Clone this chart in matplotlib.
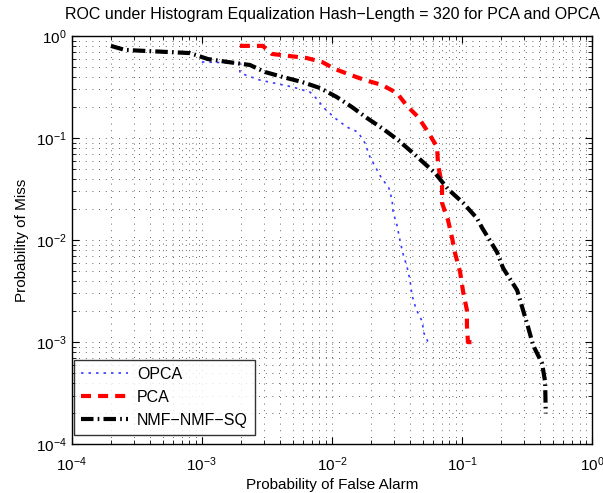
import numpy as np
import matplotlib.pyplot as plt
from matplotlib.ticker import LogLocator, NullFormatter

plt.rcParams['font.family'] = ['Liberation Sans', 'DejaVu Sans']

# OPCA (blue dotted)
opca_pfa = [1.0e-3, 1.96e-3, 1.96e-3, 2.79e-3, 5.0e-3, 6.78e-3, 7.8e-3, 8.53e-3,
            0.01054, 0.01304, 0.01584, 0.01793, 0.0196, 0.0218, 0.0238, 0.0274,
            0.029, 0.0295, 0.0316, 0.0333, 0.0352, 0.0378, 0.0398, 0.0412,
            0.0443, 0.0492, 0.051, 0.0548]
opca_pm = [0.556, 0.543, 0.434, 0.37, 0.316, 0.282, 0.236, 0.201,
           0.157, 0.128, 0.1145, 0.0893, 0.0651, 0.0508, 0.0415, 0.0323,
           0.0247, 0.0188, 0.014, 0.01, 0.0073, 0.00544, 0.00405, 0.00289,
           0.00211, 0.00161, 0.00122, 0.001]

# PCA (red dashed)
pca_pfa = [1.96e-3, 2.94e-3, 3.45e-3, 6.4e-3, 8.4e-3, 0.01054, 0.0133, 0.0179,
           0.0243, 0.0316, 0.0378, 0.0459, 0.0548, 0.0643, 0.0654, 0.0702,
           0.0702, 0.078, 0.0838, 0.0883, 0.0966, 0.102, 0.109, 0.109,
           0.111, 0.119]
pca_pm = [0.8, 0.8, 0.667, 0.608, 0.556, 0.475, 0.424, 0.37,
          0.331, 0.276, 0.206, 0.161, 0.1145, 0.0816, 0.0543, 0.0346,
          0.0231, 0.0157, 0.0105, 0.00746, 0.00486, 0.0031, 0.00206, 0.00147,
          0.001, 0.001]

# NMF-NMF-SQ (black dash-dot)
nmf_pfa = [2.0e-4, 2.56e-4, 8.1e-4, 1.11e-3, 1.58e-3, 2.34e-3, 3.05e-3, 4.2e-3,
           5.9e-3, 8.1e-3, 0.0109, 0.01426, 0.0186, 0.0247, 0.0322, 0.042,
           0.062, 0.078, 0.102, 0.130, 0.143, 0.186, 0.207, 0.265,
           0.322, 0.352, 0.412, 0.435, 0.44]
nmf_pm = [0.8, 0.73, 0.68, 0.595, 0.556, 0.52, 0.444, 0.396,
          0.354, 0.309, 0.252, 0.201, 0.157, 0.123, 0.0956, 0.0713,
          0.0454, 0.0316, 0.0231, 0.0164, 0.0131, 0.0076, 0.0053, 0.00323,
          0.0014, 0.00093, 0.00062, 0.00041, 0.0002]

fig = plt.figure(figsize=(6.03, 4.93), dpi=100)
ax = fig.add_axes([0.119, 0.099, 0.863, 0.828])

ax.loglog(opca_pfa, opca_pm, color='#3a3aff', linestyle=(0, (1.5, 3)), linewidth=1.2, label='OPCA')
ax.loglog(pca_pfa, pca_pm, color='red', linestyle=(0, (2.4, 1.7)), linewidth=3, label='PCA')
ax.loglog(nmf_pfa, nmf_pm, color='black', linestyle=(0, (3, 1, 0.4, 1)), linewidth=3,
          label='NMF\u2212NMF\u2212SQ')

ax.set_xlim(1e-4, 1)
ax.set_ylim(1e-4, 1)
ax.xaxis.set_minor_locator(LogLocator(base=10, subs=np.arange(2, 10)))
ax.yaxis.set_minor_locator(LogLocator(base=10, subs=np.arange(2, 10)))
ax.xaxis.set_minor_formatter(NullFormatter())
ax.yaxis.set_minor_formatter(NullFormatter())

ax.grid(True, which='both', linestyle=(0, (1, 7)), color='#333333', linewidth=0.6)
ax.tick_params(which='both', direction='in', top=True, right=True, labelsize=11)
ax.tick_params(which='major', length=5)
ax.tick_params(which='minor', length=3)
ax.tick_params(axis='x', which='major', pad=8)
for s in ax.spines.values():
    s.set_linewidth(1.0)

ax.set_title('ROC under Histogram Equalization Hash\u2212Length = 320 for PCA and OPCA',
             fontsize=11.5, pad=12)
ax.set_xlabel('Probability of False Alarm', fontsize=11, labelpad=3)
ax.set_ylabel('Probability of Miss', fontsize=11, labelpad=5)

leg = ax.legend(loc='lower left', bbox_to_anchor=(0.004, 0.022), fontsize=11.5,
                frameon=True, fancybox=False, edgecolor='black', handlelength=2.95,
                handletextpad=0.55, borderaxespad=0, borderpad=0.45, labelspacing=0.5)
leg.get_frame().set_linewidth(1.0)

fig.savefig('out.png', dpi=100)
